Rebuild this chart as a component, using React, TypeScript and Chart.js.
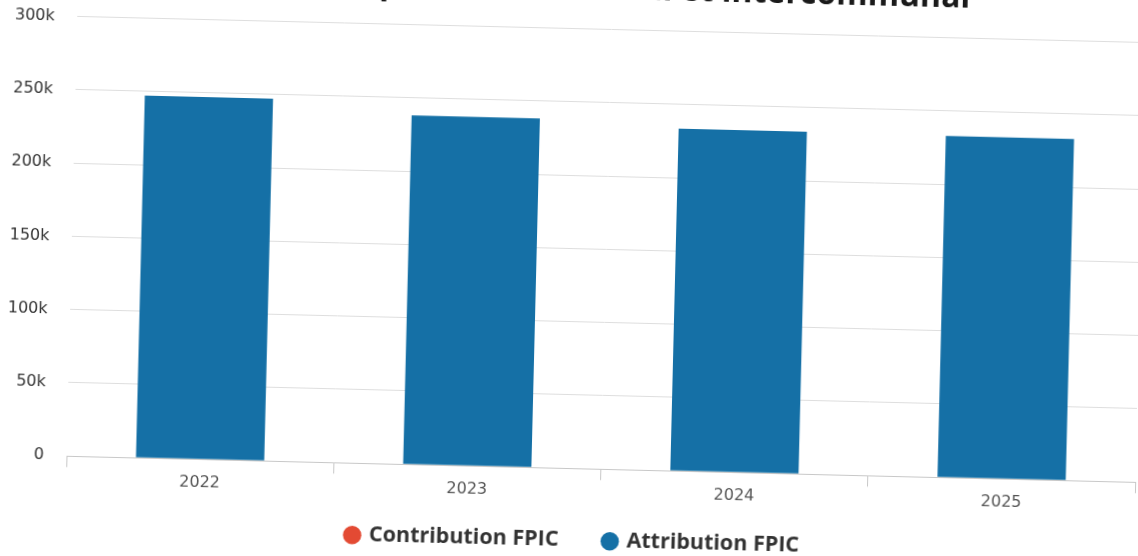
import React, { useEffect, useRef } from "react";
import { Chart, registerables } from "chart.js";

Chart.register(...registerables);

const titleText = "Fonds de péréquation communal et intercommunal";
const categories = ["2022", "2023", "2024", "2025"];
const contributionFPIC: (number | null)[] = [null, null, null, null];
const attributionFPIC = [247000, 238000, 233500, 233000];
const yTickValues = [0, 50000, 100000, 150000, 200000, 250000, 300000];
const seriesLabels = ["Contribution FPIC", "Attribution FPIC"];
const seriesColors = ["#e34a33", "#1570a6"];

const W = 1142;
const H = 591;

// shifts the centred title and legend boxes horizontally after layout
const boxShift = {
  id: "boxShift",
  afterLayout(chart: any) {
    if (chart.legend) {
      chart.legend.left += 9;
      chart.legend.right += 9;
    }
    if (chart.titleBlock) {
      chart.titleBlock.left -= 19;
      chart.titleBlock.right -= 19;
    }
  },
};

export default function App() {
  const ref = useRef<HTMLCanvasElement | null>(null);

  useEffect(() => {
    if (!ref.current) return;
    const chart = new Chart(ref.current, {
      type: "bar",
      data: {
        labels: categories,
        datasets: [
          {
            label: seriesLabels[0],
            data: contributionFPIC,
            backgroundColor: seriesColors[0],
            borderWidth: 0,
          },
          {
            label: seriesLabels[1],
            data: attributionFPIC,
            backgroundColor: seriesColors[1],
            borderWidth: 0,
          },
        ],
      },
      plugins: [boxShift],
      options: {
        responsive: false,
        animation: false,
        devicePixelRatio: 1,
        layout: { padding: { left: 0, right: 2, top: 0, bottom: 0 } },
        datasets: {
          bar: { barPercentage: 0.48, categoryPercentage: 1 },
        },
        plugins: {
          tooltip: { enabled: false },
          title: {
            display: true,
            text: titleText,
            color: "#1a1a1a",
            font: { family: "Open Sans", size: 32, weight: "bold" },
            padding: { top: 0, bottom: 20 },
          },
          legend: {
            position: "bottom",
            labels: {
              usePointStyle: true,
              pointStyle: "circle",
              boxWidth: 12,
              boxHeight: 13,
              padding: 25,
              color: "#333",
              font: { family: "Open Sans", size: 21.5, weight: "bold" },
              generateLabels: (c: any) => {
                const items = Chart.defaults.plugins.legend.labels.generateLabels(c);
                if (items[0]) items[0].text = items[0].text + "\u00a0\u00a0\u00a0\u2009";
                return items;
              },
            },
          },
        },
        scales: {
          x: {
            stacked: true,
            offset: true,
            grid: {
              offset: true,
              drawOnChartArea: false,
              drawTicks: true,
              tickLength: 11,
              color: "#c8c8c8",
            },
            border: { display: true, color: "#c8c8c8", width: 1 },
            ticks: {
              color: "#555",
              padding: 3,
              font: { family: "DejaVu Sans", size: 16 },
            },
          },
          y: {
            stacked: true,
            min: 0,
            max: 300000,
            afterFit: (scale: any) => {
              scale.width = 71;
            },
            afterBuildTicks: (scale: any) => {
              scale.ticks = yTickValues.map((v) => ({ value: v }));
            },
            grid: { color: "#dedede", lineWidth: 1, drawTicks: false },
            border: { display: false },
            ticks: {
              color: "#333",
              padding: 22.5,
              font: { family: "DejaVu Sans", size: 16 },
              callback: (v: any) => (Number(v) === 0 ? "0" : Number(v) / 1000 + "k"),
            },
          },
        },
      },
    });
    return () => chart.destroy();
  }, []);

  return (
    <div style={{ position: "fixed", inset: 0, overflow: "hidden", background: "#fff" }}>
      <div
        style={{
          position: "absolute",
          left: 0,
          top: -30,
          width: W,
          height: H,
          transform: "rotate(1.4deg)",
          transformOrigin: "569px 308px",
        }}
      >
        <canvas ref={ref} width={W} height={H} style={{ display: "block" }} />
      </div>
    </div>
  );
}
